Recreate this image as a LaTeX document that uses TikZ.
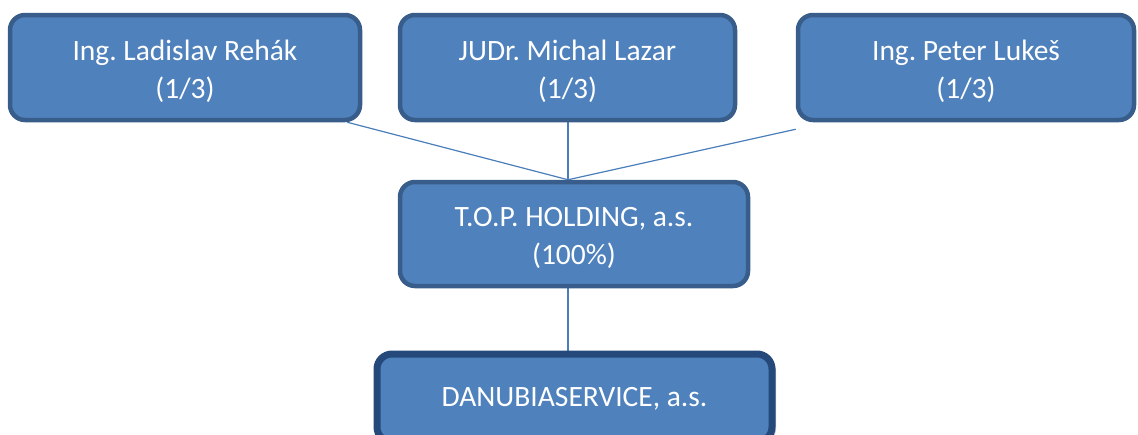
\documentclass[tikz,border=0pt]{standalone}
\usepackage{fontspec}
\setmainfont{Carlito}
\frenchspacing
\usetikzlibrary{backgrounds,shadows}
\definecolor{boxfill}{HTML}{4F81BD}
\definecolor{boxline}{HTML}{385D8A}
\definecolor{boxdark}{HTML}{24497A}
\definecolor{conn}{HTML}{4A7EBB}
\begin{document}
\begin{tikzpicture}[x=1pt,y=-1pt,
  box/.style={draw=boxline, line width=4.5pt, fill=boxfill, rounded corners=15pt},
  txt/.style={text=white, align=center, inner sep=0pt,
    font=\fontsize{29.5}{38}\selectfont},
  dbox/.style={box, draw=boxdark, line width=7pt,
    drop shadow={shadow xshift=4pt, shadow yshift=-2pt, fill=black!35, opacity=0.6}},
  conn/.style={draw=conn, line width=1.2pt}]
\useasboundingbox (0,0) rectangle (1138,434);
\node[box, minimum width=350pt, minimum height=105pt] (L) at (185,67.5) {};
\node[box, minimum width=335pt, minimum height=105pt] (M) at (567.5,67.5) {};
\node[box, minimum width=336pt, minimum height=105pt] (R) at (966,67.5) {};
\node[box, minimum width=348pt, minimum height=104pt] (T) at (574,234) {};
\node[dbox, minimum width=395pt, minimum height=88pt] (D) at (574.5,398) {};
\node[txt] (Lt) at ([yshift=-4pt]L.center) {Ing. Ladislav Rehák\\(1/3)};
\node[txt] (Mt) at ([yshift=-4pt]M.center) {JUDr. Michal Lazar\\(1/3)};
\node[txt] (Rt) at ([yshift=-4pt]R.center) {Ing. Peter Lukeš\\(1/3)};
\node[txt] (Tt) at ([yshift=-4pt]T.center) {T.O.P. HOLDING, a.s.\\(100\%)};
\node[txt] (Dt) at ([yshift=-1pt]D.center) {DANUBIASERVICE, a.s.};
\coordinate (hub) at ([xshift=-6pt]T.north);
\coordinate (tb) at ([xshift=-6pt]T.south);
\coordinate (db) at (tb |- D.north);
\begin{scope}[on background layer]
\draw[conn] ([xshift=-15pt]L.south east) -- (hub);
\draw[conn] (M.south -| hub) -- (hub);
\draw[conn] ([yshift=-7pt]R.south west) -- (hub);
\draw[conn] (tb) -- (db);
\end{scope}
\end{tikzpicture}
\end{document}
